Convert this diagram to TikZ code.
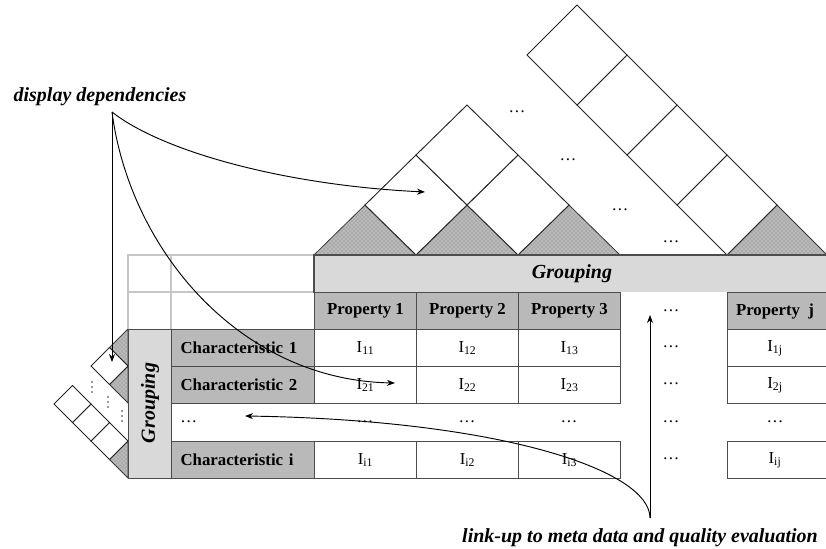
\documentclass[tikz,border=0pt]{standalone}
\usepackage{fontspec}
\setmainfont{Liberation Serif}
\usetikzlibrary{arrows.meta,patterns}
\newcommand\bfnt{\fontsize{12.6}{15}\selectfont\bfseries}
\newcommand\itfnt{\fontsize{15}{18}\selectfont\bfseries\itshape}
\newcommand\cfnt{\fontsize{12.6}{15}\selectfont}
\begin{document}
\begin{tikzpicture}[x=0.75pt,y=-0.75pt,
  cell/.style={draw=black!70, line width=0.8pt, anchor=north west,
    minimum width=102*0.75pt, minimum height=37*0.75pt, inner sep=0pt, font=\cfnt},
  prop/.style={cell, fill=gray!55, font=\bfnt},
  charc/.style={cell, fill=gray!55, font=\bfnt, minimum width=0pt,
    text width=125*0.75pt, inner xsep=9*0.75pt, align=left},
  plain/.style={inner sep=0pt, font=\cfnt},
  tri/.style={draw=black!80, line width=0.6pt, fill=gray!55,
    postaction={pattern=crosshatch dots, pattern color=black!50}},
  dia/.style={draw=black!85, line width=0.7pt, fill=white},
  lgrid/.style={draw=gray!45, line width=1.1pt},
  lbl/.style={font=\itfnt, inner sep=0pt},
  arr/.style={line width=0.7pt, -{Stealth[length=6pt,width=4.5pt]}},
  conn/.style={line width=0.7pt}]
\useasboundingbox (0,0) rectangle (826,549);

% ---- top dependency pyramid ----
\foreach \a in {314,416,518} \draw[tri] (\a,255) -- (\a+51,205) -- (\a+102,255) -- cycle;
\foreach \cx/\cy in {416/205,518/205,467/155}
  \draw[dia] (\cx-51,\cy) -- (\cx,\cy+50) -- (\cx+51,\cy) -- (\cx,\cy-50) -- cycle;
% ---- right strip ----
\draw[tri] (727,255) -- (777,205) -- (827,255) -- cycle;
\foreach \cx/\cy in {727/205,677/155,627/105,577/55}
  \draw[dia] (\cx-50,\cy) -- (\cx,\cy+50) -- (\cx+50,\cy) -- (\cx,\cy-50) -- cycle;
\node[plain] (td1) at (517,112) {…};
\node[plain] (td2) at (568,160) {…};
\node[plain] (td3) at (620,210) {…};
\node[plain] (td4) at (671,242) {…};

% ---- left dependency structure ----
\draw[tri] (128,329) -- (109.5,347.5) -- (128,366) -- cycle;
\draw[tri] (128,366) -- (109.5,384.5) -- (128,403) -- cycle;
\draw[tri] (128,441) -- (109.5,459.5) -- (128,478) -- cycle;
\draw[dia] (128,366) -- (109.5,347.5) -- (91,366) -- (109.5,384.5) -- cycle;
\foreach \cx/\cy in {109.5/441,91/422.5,72.5/404}
  \draw[dia] (\cx-18.5,\cy) -- (\cx,\cy+18.5) -- (\cx+18.5,\cy) -- (\cx,\cy-18.5) -- cycle;
\foreach \x/\y in {92/387,108/402,122/416}
  \foreach \d in {-5,0,5} \fill[black!80] (\x,\y+\d) circle (0.7pt);

% ---- light grid top-left ----
\draw[lgrid] (314,255) -- (128,255) -- (128,329);
\draw[lgrid] (128,292) -- (314,292);
\draw[lgrid] (171,255) -- (171,329);

% ---- grouping bar ----
\node[fill=gray!30, anchor=north west, minimum width=516*0.75pt, minimum height=37*0.75pt,
  inner sep=0pt] (gbar) at (314,255) {};
\node[lbl] (gtxt) at (572,274) {Grouping};
\draw[draw=black!70, line width=0.8pt] (gbar.south west) -- (gbar.north west) -- (gbar.north east);

% ---- property header ----
\node[prop] (p1) at (314,292) {Property 1};
\node[prop] (p2) at (416,292) {Property 2};
\node[prop] (p3) at (518,292) {Property 3};
\node[prop, minimum width=103*0.75pt] (pj) at (727,292) {Property~~j\hspace*{6pt}};
\node[plain] (hd) at (671,311) {…};

% ---- vertical grouping ----
\node[draw=black!70, line width=0.8pt, fill=gray!30, anchor=north west,
  minimum width=43*0.75pt, minimum height=149*0.75pt, inner sep=0pt] (gvert) at (128,329) {};
\node[lbl, rotate=90] (gvtxt) at (150,403) {Grouping};

% ---- characteristics ----
\node[charc] (c1) at (171,329) {Characteristic 1};
\node[charc] (c2) at (171,366) {Characteristic 2};
\node[plain, anchor=west] (cd) at (180,422) {…};
\node[charc] (ci) at (171,441) {Characteristic i};

% ---- cells ----
\node[cell] (i11) at (314,329) {I\textsubscript{11}};
\node[cell] (i12) at (416,329) {I\textsubscript{12}};
\node[cell] (i13) at (518,329) {I\textsubscript{13}};
\node[cell, minimum width=103*0.75pt] (i1j) at (727,329) {I\textsubscript{1j}\hspace*{6pt}};
\node[cell] (i21) at (314,366) {I\textsubscript{21}};
\node[cell] (i22) at (416,366) {I\textsubscript{22}};
\node[cell] (i23) at (518,366) {I\textsubscript{23}};
\node[cell, minimum width=103*0.75pt] (i2j) at (727,366) {I\textsubscript{2j}\hspace*{6pt}};
\node[cell] (ii1) at (314,441) {I\textsubscript{i1}};
\node[cell] (ii2) at (416,441) {I\textsubscript{i2}};
\node[cell] (ii3) at (518,441) {I\textsubscript{i3}};
\node[cell, minimum width=103*0.75pt] (iij) at (727,441) {I\textsubscript{ij}\hspace*{6pt}};
\node[plain] (d1) at (365,422) {…};
\node[plain] (d2) at (467,422) {…};
\node[plain] (d3) at (569,422) {…};
\node[plain] (dj) at (775,422) {…};
\node[plain] (r1d) at (671,347) {…};
\node[plain] (r2d) at (671,384) {…};
\node[plain] (rdd) at (671,422) {…};
\node[plain] (rid) at (671,459) {…};

% ---- labels and arrows ----
\node[lbl] (dd) at (100,97) {display dependencies};
\node[lbl] (lu) at (640,538) {link-up to meta data and quality evaluation};
\coordinate (dsrc) at (112,112);
\coordinate (ta) at (112,362);
\coordinate (tb) at (425,192);
\coordinate (tc) at (395,383);
\coordinate (lsrc) at (650,518);
\coordinate (td) at (650,315);
\coordinate (te) at (245,416);
\draw[arr] (dsrc) -- (ta);
\draw[arr] (dsrc) .. controls (160,150) and (280,185) .. (tb);
\draw[arr] (dsrc) .. controls (130,250) and (240,380) .. (tc);
\draw[arr] (lsrc) -- (td);
\draw[arr] (lsrc) .. controls (650,470) and (500,420) .. (te);
\end{tikzpicture}
\end{document}
